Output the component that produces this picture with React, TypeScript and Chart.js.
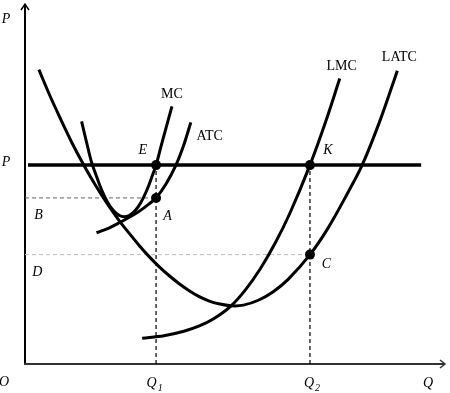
import React, { useEffect, useRef } from "react";
import { Chart, registerables } from "chart.js";

Chart.register(...registerables);

// Key levels (abstract diagram units)
const priceP = 20.0;
const levelB = 16.7;
const levelD = 11.0;
const q1 = 13.2;
const q2 = 28.7;
const pLineStart = 0.3;
const pLineEnd = 39.9;

// Long-run average total cost
const latcX = [1.4, 2.5, 3.6, 4.7, 5.9, 7.1, 8.3, 9.5, 10.5, 11.5, 12.5, 13.5, 14.5, 15.5, 16.5, 17.5, 18.5, 19.5, 20.8, 22.0, 23.5, 25.0, 26.5, 28.7, 30.5, 32.5, 34.0, 35.8, 37.5];
const latcY = [29.6, 27.0, 24.6, 22.3, 20.04, 17.97, 16.1, 14.4, 13.14, 11.92, 10.8, 9.8, 8.9, 8.1, 7.4, 6.8, 6.35, 6.05, 5.85, 5.92, 6.41, 7.27, 8.51, 11.0, 13.64, 17.2, 20.1, 24.6, 29.5];

// Long-run marginal cost
const lmcX = [11.8, 14.0, 16.0, 17.5, 19.0, 20.7, 22.2, 23.7, 25.2, 26.7, 28.7, 30.2, 31.7];
const lmcY = [2.6, 2.85, 3.3, 3.8, 4.55, 5.8, 7.46, 9.58, 12.16, 15.21, 20.0, 24.13, 28.7];

// Short-run marginal cost
const mcX = [5.7, 6.2, 6.7, 7.2, 7.7, 8.3, 8.9, 9.5, 10.0, 10.5, 11.1, 11.7, 12.3, 12.8, 13.2, 13.6, 14.0, 14.4, 14.8];
const mcY = [24.4, 22.3, 20.3, 18.88, 17.55, 16.3, 15.43, 14.93, 14.8, 14.93, 15.43, 16.3, 17.55, 18.88, 20.0, 21.5, 23.0, 24.45, 25.9];

// Short-run average total cost
const atcX = [7.2, 8.5, 9.5, 10.5, 11.5, 12.5, 13.2, 14.2, 15.2, 16.0, 16.7];
const atcY = [13.2, 13.7, 14.2, 14.75, 15.35, 16.1, 16.7, 18.1, 20.0, 22.05, 24.3];

// Marked points
const pointNames = ["E", "A", "K", "C"];
const pointX = [q1, q1, q2, q2];
const pointY = [priceP, levelB, priceP, levelD];

// Text labels
const labelTexts = ["MC", "ATC", "LMC", "LATC", "E", "A", "K", "C", "B", "D", "P", "P", "O", "Q", "Q", "Q"];
const labelSubs = ["", "", "", "", "", "", "", "", "", "", "", "", "", "1", "2", ""];
const labelItalic = [false, false, false, false, true, true, true, true, true, true, true, true, true, true, true, true];
const labelX = [14.8, 18.6, 31.9, 37.7, 11.85, 14.35, 30.5, 30.35, 1.35, 1.25, -1.9, -1.9, -2.1, 12.75, 28.6, 40.6];
const labelY = [27.1, 22.9, 29.9, 30.8, 21.45, 14.9, 21.45, 10.05, 15.0, 9.2, 34.7, 20.3, -1.8, -1.9, -1.9, -1.9];

const xMax = 42.3;
const yMax = 36.1;

const zip = (xs: number[], ys: number[]) => xs.map((x, i) => ({ x, y: ys[i] }));

const axesPlugin = {
  id: "econAxes",
  beforeDatasetsDraw(chart: any) {
    const { ctx, chartArea } = chart;
    const { left, right, top, bottom } = chartArea;
    ctx.save();
    ctx.lineCap = "butt";
    // y axis
    ctx.strokeStyle = "#000";
    ctx.lineWidth = 2;
    ctx.beginPath();
    ctx.moveTo(left, bottom);
    ctx.lineTo(left, top - 1);
    ctx.stroke();
    ctx.lineWidth = 1.5;
    ctx.beginPath();
    ctx.moveTo(left - 4, top + 5);
    ctx.lineTo(left, top - 1);
    ctx.lineTo(left + 4, top + 5);
    ctx.stroke();
    // x axis
    ctx.strokeStyle = "#333";
    ctx.lineWidth = 2;
    ctx.beginPath();
    ctx.moveTo(left - 1, bottom);
    ctx.lineTo(right, bottom);
    ctx.stroke();
    ctx.lineWidth = 1.5;
    ctx.beginPath();
    ctx.moveTo(right - 5, bottom - 4);
    ctx.lineTo(right, bottom);
    ctx.lineTo(right - 5, bottom + 4);
    ctx.stroke();
    ctx.restore();
  },
  afterDatasetsDraw(chart: any) {
    const { ctx, scales } = chart;
    ctx.save();
    ctx.fillStyle = "#000";
    ctx.textBaseline = "middle";
    ctx.textAlign = "center";
    labelTexts.forEach((t, i) => {
      const px = scales.x.getPixelForValue(labelX[i]);
      const py = scales.y.getPixelForValue(labelY[i]);
      const style = labelItalic[i] ? "italic " : "";
      ctx.font = `${style}14px "Liberation Serif", "DejaVu Serif", serif`;
      ctx.fillText(t, px, py);
      if (labelSubs[i]) {
        const w = ctx.measureText(t).width;
        ctx.font = `${style}10px "Liberation Serif", "DejaVu Serif", serif`;
        ctx.textAlign = "left";
        ctx.fillText(labelSubs[i], px + w / 2 + 1, py + 5);
        ctx.textAlign = "center";
      }
    });
    ctx.restore();
  },
};

export default function App() {
  const ref = useRef<HTMLCanvasElement | null>(null);
  useEffect(() => {
    if (!ref.current) return;
    const curve = (data: any[], width = 3) => ({
      data,
      showLine: true,
      borderColor: "#000",
      borderWidth: width,
      pointRadius: 0,
      tension: 0.35,
      fill: false,
      clip: false,
    });
    const guide = (data: any[], color: string, width: number) => ({
      data,
      showLine: true,
      borderColor: color,
      borderWidth: width,
      borderDash: [4, 3],
      pointRadius: 0,
      tension: 0,
      fill: false,
      clip: false,
    });
    const chart = new Chart(ref.current, {
      type: "scatter",
      data: {
        datasets: [
          {
            label: pointNames.join(","),
            data: zip(pointX, pointY),
            pointRadius: 5,
            pointBackgroundColor: "#000",
            pointBorderColor: "#000",
            pointBorderWidth: 0,
            showLine: false,
            clip: false,
          } as any,
          curve(zip(mcX, mcY)) as any,
          curve(zip(atcX, atcY)) as any,
          curve(zip(lmcX, lmcY)) as any,
          curve(zip(latcX, latcY)) as any,
          curve([{ x: pLineStart, y: priceP }, { x: pLineEnd, y: priceP }], 3.5) as any,
          guide([{ x: q1, y: 0 }, { x: q1, y: priceP }], "#000", 1.2) as any,
          guide([{ x: q2, y: 0 }, { x: q2, y: priceP }], "#000", 1.2) as any,
          guide([{ x: 0, y: levelB }, { x: q1, y: levelB }], "#666", 1) as any,
          guide([{ x: 0, y: levelD }, { x: q2, y: levelD }], "#bbb", 1) as any,
        ],
      },
      options: {
        animation: false,
        responsive: false,
        maintainAspectRatio: false,
        layout: { padding: { left: 25, right: 2, top: 3, bottom: 29 } },
        plugins: { legend: { display: false }, tooltip: { enabled: false }, title: { display: false } },
        scales: {
          x: { type: "linear", min: 0, max: xMax, display: false },
          y: { type: "linear", min: 0, max: yMax, display: false },
        },
        events: [],
      },
      plugins: [axesPlugin],
    });
    return () => chart.destroy();
  }, []);
  return (
    <div style={{ position: "absolute", left: 0, top: 0, width: 450, height: 393, background: "#fff" }}>
      <canvas ref={ref} width={450} height={393} />
    </div>
  );
}
